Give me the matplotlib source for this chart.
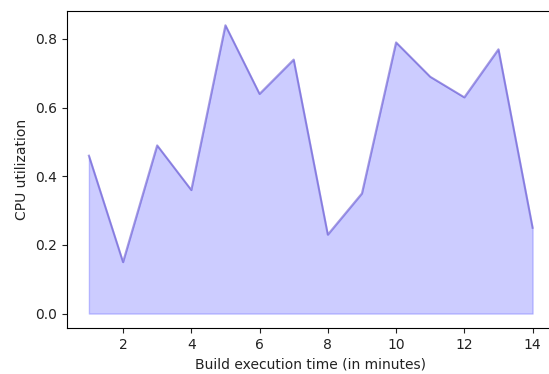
import matplotlib
matplotlib.use("Agg")
import matplotlib.pyplot as plt

# build minutes and cpu load
minutes = [1, 2, 3, 4, 5, 6, 7, 8, 9, 10, 11, 12, 13, 14]
cpu_util = [0.46, 0.15, 0.49, 0.36, 0.84, 0.64, 0.74, 0.23, 0.35, 0.79, 0.69, 0.63, 0.77, 0.25]

fig = plt.figure(figsize=(5.49, 3.74), dpi=100)
ax = fig.add_axes([0.1215, 0.123, 0.889, 0.848])

ax.fill_between(minutes, cpu_util, color="blue", alpha=0.2)
ax.plot(minutes, cpu_util, color="slateblue", alpha=0.6, linewidth=1.5)

ax.set_xticks([2, 4, 6, 8, 10, 12, 14])
ax.set_yticks([0.0, 0.2, 0.4, 0.6, 0.8])
ax.tick_params(labelsize=10, colors="#222222")
ax.set_xlabel("Build execution time (in minutes)", color="#222222")
ax.set_ylabel("CPU utilization", color="#222222")

fig.savefig("out.png", dpi=100)
